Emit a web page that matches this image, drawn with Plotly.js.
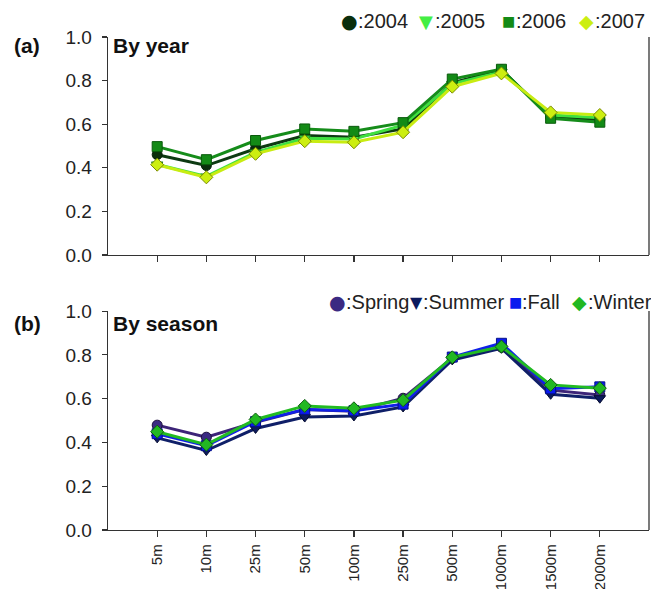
<!DOCTYPE html>
<html>
<head>
<meta charset="utf-8">
<script src="https://cdn.plot.ly/plotly-3.0.1.min.js"></script>
<style>
  html, body { margin: 0; padding: 0; background: #fff; }
  #chart { width: 651px; height: 589px; }
</style>
</head>
<body>
<div id="chart"></div>
<script>
// Sampling depths (x categories)
const depths = ['5m', '10m', '25m', '50m', '100m', '250m', '500m', '1000m', '1500m', '2000m'];

// (a) By year
const y2004 = [0.46, 0.41, 0.487, 0.548, 0.54, 0.578, 0.79, 0.849, 0.632, 0.62];
const y2005 = [0.415, 0.36, 0.47, 0.535, 0.532, 0.595, 0.785, 0.84, 0.642, 0.63];
const y2006 = [0.497, 0.437, 0.525, 0.578, 0.567, 0.607, 0.807, 0.852, 0.627, 0.609];
const y2007 = [0.414, 0.356, 0.464, 0.522, 0.517, 0.563, 0.772, 0.833, 0.654, 0.642];

// (b) By season
const spring = [0.479, 0.424, 0.492, 0.55, 0.542, 0.602, 0.785, 0.835, 0.639, 0.617];
const summer = [0.421, 0.363, 0.464, 0.516, 0.521, 0.562, 0.777, 0.83, 0.62, 0.602];
const fall   = [0.44, 0.385, 0.495, 0.551, 0.545, 0.575, 0.79, 0.853, 0.645, 0.654];
const winter = [0.449, 0.39, 0.505, 0.567, 0.556, 0.593, 0.789, 0.838, 0.663, 0.648];

const yTicks = [0, 0.2, 0.4, 0.6, 0.8, 1.0];
const yTickText = ['0.0', '0.2', '0.4', '0.6', '0.8', '1.0'];

const FONT = 'Liberation Sans, Arial, sans-serif';
const SYMFONT = 'DejaVu Sans, sans-serif';
const W = 651, H = 589;
const M = { l: 108, r: 2, t: 37, b: 59 };
const px = x => (x - M.l) / (W - M.l - M.r);
const py = y => (H - M.b - y) / (H - M.t - M.b);

function series(name, y, xa, ya, color, symbol, fill, edge) {
  return {
    type: 'scatter', mode: 'lines+markers', name: name,
    x: depths, y: y, xaxis: xa, yaxis: ya, showlegend: false,
    line: { color: color, width: 3 },
    marker: { symbol: symbol, size: 10, color: fill, line: { color: edge, width: 1 } }
  };
}

const data = [
  series('2004', y2004, 'x', 'y', '#0d3a12', 'circle', '#0a2e0c', '#05200a'),
  series('2005', y2005, 'x', 'y', '#3fe03f', 'triangle-down', '#44ee44', '#208a20'),
  series('2006', y2006, 'x', 'y', '#158c1a', 'square', '#138a16', '#0a5a0c'),
  series('2007', y2007, 'x', 'y', '#c8ec12', 'diamond', '#ccee11', '#7a8a00'),
  series('Spring', spring, 'x2', 'y2', '#3d2478', 'circle', '#3b2a82', '#1e1040'),
  series('Summer', summer, 'x2', 'y2', '#0f1f68', 'triangle-down', '#0c1a5e', '#050c30'),
  series('Fall', fall, 'x2', 'y2', '#1020e8', 'square', '#0a1aee', '#05108a'),
  series('Winter', winter, 'x2', 'y2', '#22bb22', 'diamond', '#22b822', '#0e5e0e')
];

function xaxis(labels, anchor) {
  return {
    type: 'category', range: [-1, 10], anchor: anchor,
    showline: true, linecolor: '#333', linewidth: 1.3,
    ticks: 'outside', ticklen: 6, tickcolor: '#333', tickwidth: 1.2,
    showgrid: false, zeroline: false,
    showticklabels: labels, tickangle: -90, ticklabelstandoff: 1,
    tickfont: { family: FONT, size: 15, color: '#222' }
  };
}
function yaxis(domain, anchor) {
  return {
    domain: domain, range: [0, 1], anchor: anchor,
    tickvals: yTicks, ticktext: yTickText,
    showline: true, linecolor: '#333', linewidth: 1.3,
    ticks: 'outside', ticklen: 5, tickcolor: '#333', tickwidth: 1.2,
    showgrid: false, zeroline: false, ticklabelstandoff: 6,
    tickfont: { family: FONT, size: 19, color: '#222' }
  };
}

// legend entry: a coloured glyph followed by its label
function legendItem(sx, tx, y, glyph, glyphSize, color, text) {
  return [
    {
      xref: 'paper', yref: 'paper', x: px(sx), y: py(y),
      xanchor: 'center', yanchor: 'middle', showarrow: false, borderpad: 0,
      text: glyph, font: { family: SYMFONT, size: glyphSize, color: color }
    },
    {
      xref: 'paper', yref: 'paper', x: px(tx), y: py(y),
      xanchor: 'left', yanchor: 'middle', showarrow: false, borderpad: 0,
      text: text, font: { family: FONT, size: 20, color: '#222' }
    }
  ];
}
function label(x, y, text, anchor) {
  return {
    xref: 'paper', yref: 'paper', x: px(x), y: py(y),
    xanchor: anchor, yanchor: 'middle', showarrow: false,
    text: '<b>' + text + '</b>',
    font: { family: FONT, size: 21, color: '#111' }
  };
}

const annotations = [
  label(27, 46, '(a)', 'center'),
  label(111, 46, 'By year', 'left'),
  label(27, 323, '(b)', 'center'),
  label(111, 323, 'By season', 'left'),
  ...legendItem(349, 357, 21, '●', 19, '#0a2e0c', ':2004'),
  ...legendItem(426, 434, 21, '▼', 18, '#44ee44', ':2005'),
  ...legendItem(508, 515, 21, '■', 14, '#138a16', ':2006'),
  ...legendItem(586, 594, 21, '◆', 19, '#ccee11', ':2007'),
  ...legendItem(337, 345, 302, '●', 19, '#3b2a82', ':Spring'),
  ...legendItem(416, 422, 302, '▼', 16, '#0c1a5e', ':Summer'),
  ...legendItem(515, 521, 302, '■', 14, '#0a1aee', ':Fall'),
  ...legendItem(579, 587, 302, '◆', 19, '#22b822', ':Winter')
];

// right-hand frame line of each panel
const shapes = [
  { type: 'line', xref: 'paper', x0: 1, x1: 1, yref: 'y', y0: 0, y1: 1, line: { color: '#333', width: 1.3 } },
  { type: 'line', xref: 'paper', x0: 1, x1: 1, yref: 'y2', y0: 0, y1: 1, line: { color: '#333', width: 1.3 } }
];

const layout = {
  width: W, height: H,
  margin: M,
  paper_bgcolor: '#fff', plot_bgcolor: '#fff',
  showlegend: false,
  xaxis: xaxis(false, 'y'),
  yaxis: yaxis([0.558, 1], 'x'),
  xaxis2: xaxis(true, 'y2'),
  yaxis2: yaxis([0, 0.444], 'x2'),
  annotations: annotations,
  shapes: shapes
};

Plotly.newPlot('chart', data, layout, { displayModeBar: false, staticPlot: true });
</script>
</body>
</html>
